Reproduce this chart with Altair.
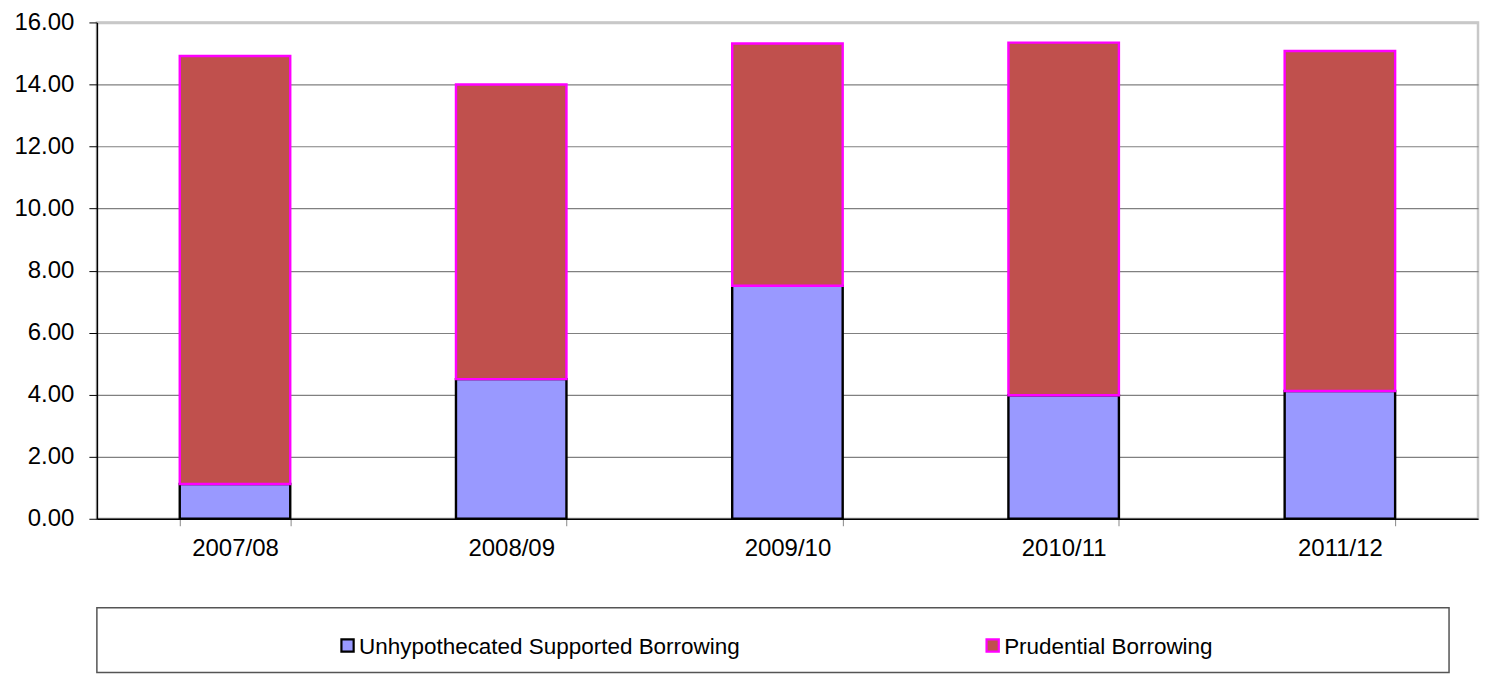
import altair as alt
import pandas as pd

years = ["2007/08", "2008/09", "2009/10", "2010/11", "2011/12"]
series = ["Unhypothecated Supported Borrowing", "Prudential Borrowing"]
unhypothecated = [1.12, 4.50, 7.51, 3.98, 4.12]
prudential = [13.80, 9.50, 7.81, 11.37, 10.96]

fill_colors = ["#9999FF", "#C0504D"]
stroke_colors = ["#000000", "#FF00FF"]
FONT = "Liberation Sans"

rows = []
for i, y in enumerate(years):
    rows.append({"year": y, "series": series[0], "order": 0, "value": unhypothecated[i]})
    rows.append({"year": y, "series": series[1], "order": 1, "value": prudential[i]})
df = pd.DataFrame(rows)

color_scale = alt.Scale(domain=series, range=fill_colors)
stroke_scale = alt.Scale(domain=series, range=stroke_colors)

bars = alt.Chart(df).mark_bar(strokeWidth=2.4, strokeJoin="miter").encode(
    x=alt.X("year:N", sort=years, title=None,
            scale=alt.Scale(paddingInner=0.6, paddingOuter=0.3),
            axis=alt.Axis(labelAngle=0, labelFont=FONT, labelFontSize=24, labelColor="#000",
                          domainColor="#000", domainWidth=1.5, tickColor="#888",
                          tickSize=7, tickBand="extent", labelPadding=11, grid=False)),
    y=alt.Y("value:Q", stack="zero", title=None,
            scale=alt.Scale(domain=[0, 16], nice=False),
            axis=alt.Axis(values=[0, 2, 4, 6, 8, 10, 12, 14, 16], format=".2f",
                          labelFont=FONT, labelFontSize=24, labelColor="#000",
                          domainColor="#000", domainWidth=1.5, tickColor="#000",
                          tickSize=8, labelPadding=15,
                          gridColor=alt.condition("datum.value == 16", alt.value("#c8c8c8"), alt.value("#808080")),
                          gridWidth=alt.condition("datum.value == 16", alt.value(2.5), alt.value(1.2)))),
    color=alt.Color("series:N", scale=color_scale, legend=None),
    stroke=alt.Stroke("series:N", scale=stroke_scale, legend=None),
    order=alt.Order("order:Q", sort="ascending"),
).properties(
    width=1383, height=497,
    view=alt.ViewBackground(stroke="#c8c8c8", strokeWidth=2.5),
)

leg_df = pd.DataFrame({"series": series})
leg_x = alt.X("series:N", sort=series, axis=None,
              scale=alt.Scale(type="point", domain=series, range=[251, 897], padding=0))

leg_sym = alt.Chart(leg_df).mark_square(size=150, strokeWidth=2.2, opacity=1).encode(
    x=leg_x,
    y=alt.value(38),
    color=alt.Color("series:N", scale=color_scale, legend=None),
    stroke=alt.Stroke("series:N", scale=stroke_scale, legend=None),
)
leg_txt = alt.Chart(leg_df).mark_text(align="left", baseline="middle", dx=11.5, dy=1,
                                      font=FONT, fontSize=22.5, color="#000").encode(
    x=leg_x,
    y=alt.value(38),
    text="series:N",
)
legend_panel = alt.layer(leg_sym, leg_txt).properties(
    width=1354, height=65,
    view=alt.ViewBackground(stroke="#555555", strokeWidth=1.5),
)

chart = alt.vconcat(bars, legend_panel, spacing=89, bounds="flush").properties(
    padding={"left": 4, "top": 0, "right": 0, "bottom": 0},
    background="#ffffff",
)

chart.save("out.html", embed_options={"renderer": "svg", "actions": False})
